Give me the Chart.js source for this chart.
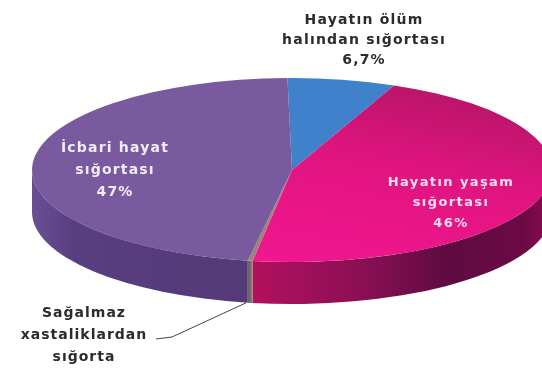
<!DOCTYPE html>
<html>
<head>
<meta charset="utf-8">
<style>
  html, body { margin: 0; padding: 0; background: #fff; overflow: hidden; }
  #pie { display: block; filter: blur(0.6px); }
</style>
<script src="https://cdn.jsdelivr.net/npm/chart.js@4"></script>
</head>
<body>
<canvas id="pie" width="542" height="369"></canvas>
<script>
// Values as printed on the picture, clockwise from the top
var categories = ['Hayatın ölüm halından sığortası', 'Hayatın yaşam sığortası', 'Sağalmaz xastaliklardan sığorta', 'İcbari hayat sığortası'];
var shares = [6.7, 46, 0.3, 47];
var blueLines = ['Hayatın ölüm', 'halından sığortası', '6,7%'];
var pinkLines = ['Hayatın yaşam', 'sığortası', '46%'];
var greyLines = ['Sağalmaz', 'xastaliklardan', 'sığorta'];
var purpleLines = ['İcbari hayat', 'sığortası', '47%'];

// Flattened pie geometry on the page
var cx = 292, cy = 170, rx = 260, ry = 92, depth = 42;

var flatColors = ['#3f82cb', null, '#9a8478', '#7a5a9f'];

// Slice colour; the pink one is a gradient in the pie's own coordinates
function sliceColor(context) {
    if (context.dataIndex !== 1) return flatColors[context.dataIndex];
    var chart = context.chart;
    var r = chart.height / 2;
    var x = chart.width / 2, y = chart.height / 2;
    var g = chart.ctx.createLinearGradient(x - r * 0.2, y + r, x + r * 0.9, y - r * 0.9);
    g.addColorStop(0, '#f2178f');
    g.addColorStop(0.55, '#e0147f');
    g.addColorStop(1, '#b01563');
    return g;
}

// Side wall colours, left to right along the page
var wallStops = [
    null,
    [[0, '#b3105f'], [0.35, '#8c0f55'], [0.65, '#5f0b42'], [0.9, '#6b0a45'], [1, '#8c0a52']],
    [[0, '#5d5d68'], [0.6, '#77706c'], [1, '#a07a60']],
    [[0, '#6a4f95'], [0.2, '#583d80'], [1, '#553a78']]
];

// Draws the thick edge under the pie and squashes the library's arcs into an ellipse
var tiltPlugin = {
    id: 'tilt',
    beforeDatasetsDraw: function (chart) {
        var ctx = chart.ctx;
        var arcs = chart.getDatasetMeta(0).data;
        arcs.forEach(function (arc, i) {
            // only the part facing the viewer (canvas angles 0..PI) has a wall
            var a0 = Math.max(arc.startAngle, 0);
            var a1 = Math.min(arc.endAngle, Math.PI);
            if (a1 <= a0 || !wallStops[i]) return;
            var left = cx + rx * Math.cos(a1), right = cx + rx * Math.cos(a0);
            var g = ctx.createLinearGradient(left, 0, right, 0);
            wallStops[i].forEach(function (s) { g.addColorStop(s[0], s[1]); });
            ctx.beginPath();
            ctx.ellipse(cx, cy, rx, ry, 0, a0, a1);
            ctx.ellipse(cx, cy + depth, rx, ry, 0, a1, a0, true);
            ctx.closePath();
            ctx.fillStyle = g;
            ctx.fill();
        });
        var first = arcs[0];
        ctx.save();
        ctx.translate(cx, cy);
        ctx.scale(rx / first.outerRadius, ry / first.outerRadius);
        ctx.translate(-first.x, -first.y);
    },
    afterDatasetsDraw: function (chart) {
        chart.ctx.restore();
    },
    afterDraw: function (chart) {
        var ctx = chart.ctx;
        // leader line from the thin slice to its label
        var thin = chart.getDatasetMeta(0).data[2];
        var mid = (thin.startAngle + thin.endAngle) / 2;
        ctx.save();
        ctx.strokeStyle = '#444';
        ctx.lineWidth = 1;
        ctx.beginPath();
        ctx.moveTo(cx + rx * Math.cos(mid) - 4, cy + depth + ry * Math.sin(mid));
        ctx.lineTo(172, 337);
        ctx.lineTo(156, 339);
        ctx.stroke();
        ctx.restore();

        drawLabel(ctx, blueLines, 364, [20, 40, 60], '#2b2b2b', 14, 1.2);
        drawLabel(ctx, pinkLines, 451, [183, 203, 224], '#f7dff0', 13, 1.4);
        drawLabel(ctx, purpleLines, 115, [148, 170, 192], '#f1ecf6', 14, 1.2);
        drawLabel(ctx, greyLines, 84, [313, 335, 357], '#2b2b2b', 14, 1);
    }
};

function drawLabel(ctx, lines, x, ys, color, size, spacing) {
    ctx.save();
    ctx.font = 'bold ' + size + 'px "DejaVu Sans"';
    ctx.letterSpacing = spacing + 'px';
    ctx.fillStyle = color;
    ctx.textAlign = 'center';
    ctx.textBaseline = 'middle';
    lines.forEach(function (line, i) {
        ctx.fillText(line, x, ys[i]);
    });
    ctx.restore();
}

new Chart(document.getElementById('pie'), {
    type: 'pie',
    data: {
        labels: categories,
        datasets: [{
            data: shares,
            backgroundColor: sliceColor,
            borderWidth: 0,
            clip: false
        }]
    },
    options: {
        responsive: false,
        animation: false,
        rotation: -1,
        layout: { padding: 0 },
        plugins: { legend: { display: false }, tooltip: { enabled: false } }
    },
    plugins: [tiltPlugin]
});
</script>
</body>
</html>
